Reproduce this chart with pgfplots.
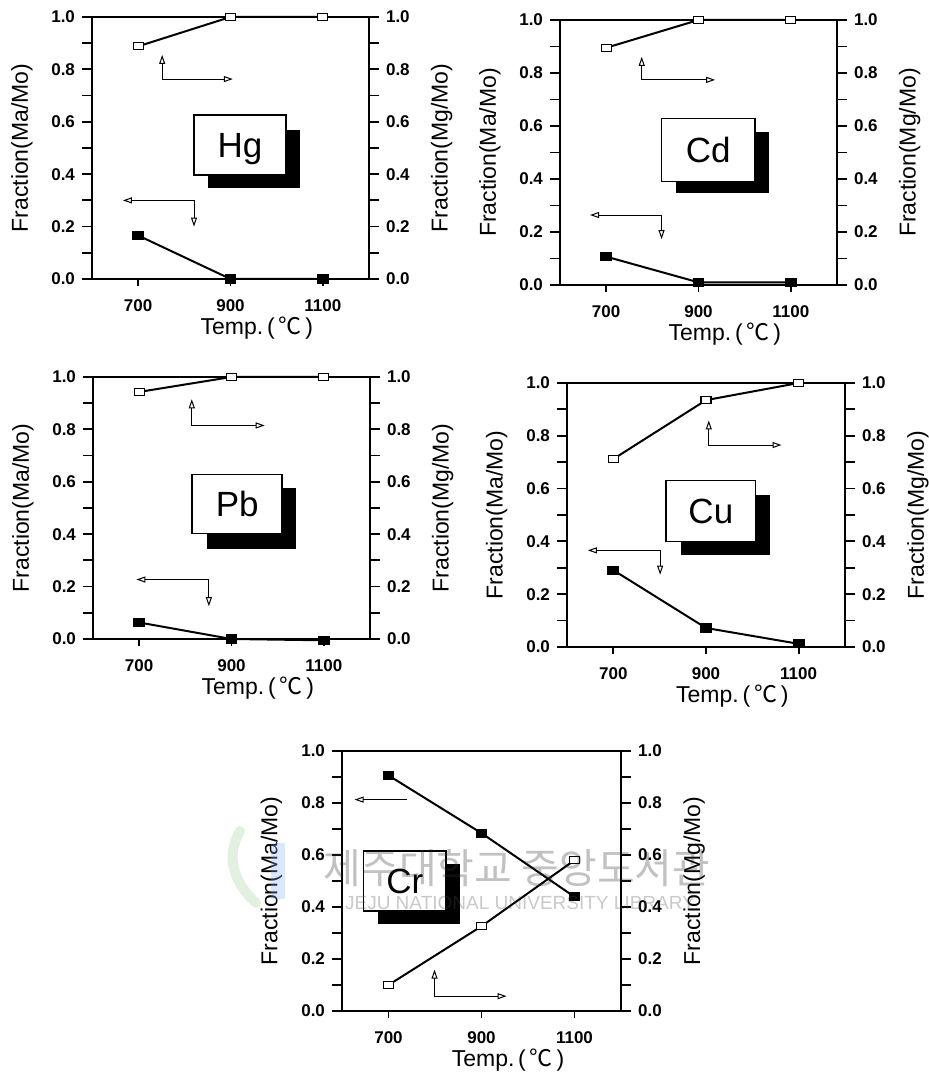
\documentclass[border=0pt]{standalone}
\usepackage{pgfplots}
\pgfplotsset{compat=1.18}
\usetikzlibrary{arrows.meta}
\usepackage{fontspec}
\setmainfont{Liberation Sans}
\newfontfamily\krfont{Noto Sans CJK KR}

\pgfplotsset{
  frac/.style={
    scale only axis, clip=false,
    xmin=600, xmax=1200, ymin=0, ymax=1,
    axis line style={line width=1.1pt},
    tick align=outside, major tick length=5pt, minor tick length=5pt,
    every tick/.style={black, line width=0.9pt},
    ytick={0,0.2,0.4,0.6,0.8,1}, minor ytick={0.1,0.3,0.5,0.7,0.9},
    yticklabel style={/pgf/number format/fixed, /pgf/number format/fixed zerofill,
      /pgf/number format/precision=1},
    xticklabel style={/pgf/number format/set thousands separator={}},
    /pgf/number format/assume math mode=true,
    tick label style={font=\fontsize{8.5}{10}\selectfont\bfseries},
    label style={font=\fontsize{11.5}{13}\selectfont},
  },
  maline/.style={black, line width=1pt, mark=square*, mark size=2.7pt,
    mark options={solid, fill=black, yscale=0.75, line width=0.5pt}},
  mgline/.style={black, line width=1pt, mark=square*, mark size=2.5pt,
    mark options={solid, fill=white, yscale=0.7, line width=0.6pt}},
}
\tikzset{
  ann/.style={line width=0.5pt,
    {Triangle[open,length=4.5pt,width=3pt]}-{Triangle[open,length=4.5pt,width=3pt]}},
  annl/.style={line width=0.5pt, {Triangle[open,length=4.5pt,width=3pt]}-},
}

% element label with a drop shadow: name, white box corners, shadow corners
\newcommand{\elbox}[9]{%
  \fill[black] (axis cs:#6,#7) rectangle (axis cs:#8,#9);
  \draw[fill=white, line width=0.8pt] (axis cs:#2,#3) rectangle (axis cs:#4,#5);
  \node[anchor=base, inner sep=0pt, font=\fontsize{17.5}{20}\selectfont]
    at (axis cs:{(#2+#4)/2},{(#3+#5)/2-0.048}) {#1};
}

% one panel: position, width, height, Ma/Mo data, Mg/Mo data, annotations
\newcommand{\panel}[6]{%
  \begin{axis}[frac, at={#1}, anchor=south west, width=#2, height=#3,
      xtick={700,900,1100}, xtick pos=bottom, ytick pos=left,
      xtick style={/pgfplots/major tick length=3.5pt},
      xticklabel style={yshift=-2pt},
      xlabel={Temp.\,(\,{\krfont ℃}\,)},
      xlabel style={at={(axis description cs:0.595,0)}, anchor=center, yshift=-24.5pt},
      ylabel={Fraction(Ma/Mo)},
      ylabel style={at={(axis description cs:-0.253,0.5)}, anchor=center}]
    #6
    \addplot[maline] coordinates {#4};
    \addplot[mgline] coordinates {#5};
  \end{axis}
  \begin{axis}[frac, at={#1}, anchor=south west, width=#2, height=#3,
      axis x line=none, axis y line*=right, ytick pos=right,
      ylabel={Fraction(Mg/Mo)},
      ylabel style={at={(axis description cs:1.262,0.5)}, anchor=center}]
    \addplot[draw=none] coordinates {(700,0)};
  \end{axis}}

\begin{document}
\begin{tikzpicture}
\path[use as bounding box] (0,0) rectangle (464pt,537.5pt);

% Hg
\panel{(46pt,398pt)}{138.5pt}{131pt}
  {(700,0.166) (900,0) (1100,0)}
  {(700,0.888) (900,1) (1100,1)}
  {\draw[ann] (axis cs:752,0.855) |- (axis cs:905,0.763);
   \draw[ann] (axis cs:667,0.30) -| (axis cs:821,0.20);
   \elbox{Hg}{821}{0.397}{1020}{0.626}{851}{0.347}{1051}{0.569}}

% Cd
\panel{(280pt,395pt)}{138.5pt}{132.5pt}
  {(700,0.107) (900,0.01) (1100,0.01)}
  {(700,0.895) (900,1) (1100,1)}
  {\draw[ann] (axis cs:777,0.861) |- (axis cs:936,0.774);
   \draw[ann] (axis cs:665,0.264) -| (axis cs:820,0.173);
   \elbox{Cd}{820}{0.39}{1022}{0.629}{851}{0.348}{1053}{0.579}}

% Pb
\panel{(46.5pt,218pt)}{138.5pt}{131pt}
  {(700,0.063) (900,0) (1100,-0.005)}
  {(700,0.943) (900,1) (1100,1)}
  {\draw[ann] (axis cs:814,0.915) |- (axis cs:972,0.815);
   \draw[ann] (axis cs:694,0.227) -| (axis cs:851,0.125);
   \elbox{Pb}{815}{0.402}{1010}{0.628}{847}{0.345}{1039}{0.575}}

% Cu
\panel{(283.5pt,214pt)}{139pt}{132pt}
  {(700,0.291) (900,0.072) (1100,0.012)}
  {(700,0.712) (900,0.935) (1100,1)}
  {\draw[ann] (axis cs:906,0.858) |- (axis cs:1063,0.765);
   \draw[ann] (axis cs:645,0.366) -| (axis cs:801,0.274);
   \elbox{Cu}{814}{0.40}{1007}{0.631}{847}{0.35}{1039}{0.577}}

% Cr
\panel{(171pt,32pt)}{139.5pt}{130pt}
  {(700,0.906) (900,0.684) (1100,0.439)}
  {(700,0.10) (900,0.326) (1100,0.58)}
  {\draw[ann] (axis cs:799,0.159) |- (axis cs:954,0.057);
   \draw[annl] (axis cs:627,0.813) -- (axis cs:740,0.813);
   \elbox{Cr}{646}{0.385}{824}{0.615}{678}{0.336}{853}{0.564}}

% library stamp
\begin{scope}[opacity=0.3]
  \draw[line width=5pt, green!55!black!40, line cap=round]
    (120pt,122pt) .. controls (112pt,108pt) and (118pt,95pt) .. (128pt,86pt);
  \draw[line width=7pt, blue!60!cyan!50] (139pt,116pt) -- (139pt,88pt);
  \node[font=\krfont\fontsize{20.5}{24}\selectfont, text=black!80] at (258.5pt,103.5pt)
    {제주대학교 중앙도서관};
  \node[font=\fontsize{9.5}{11}\selectfont, text=black!70] at (260pt,86pt)
    {JEJU NATIONAL UNIVERSITY LIBRARY};
\end{scope}
\end{tikzpicture}
\end{document}
